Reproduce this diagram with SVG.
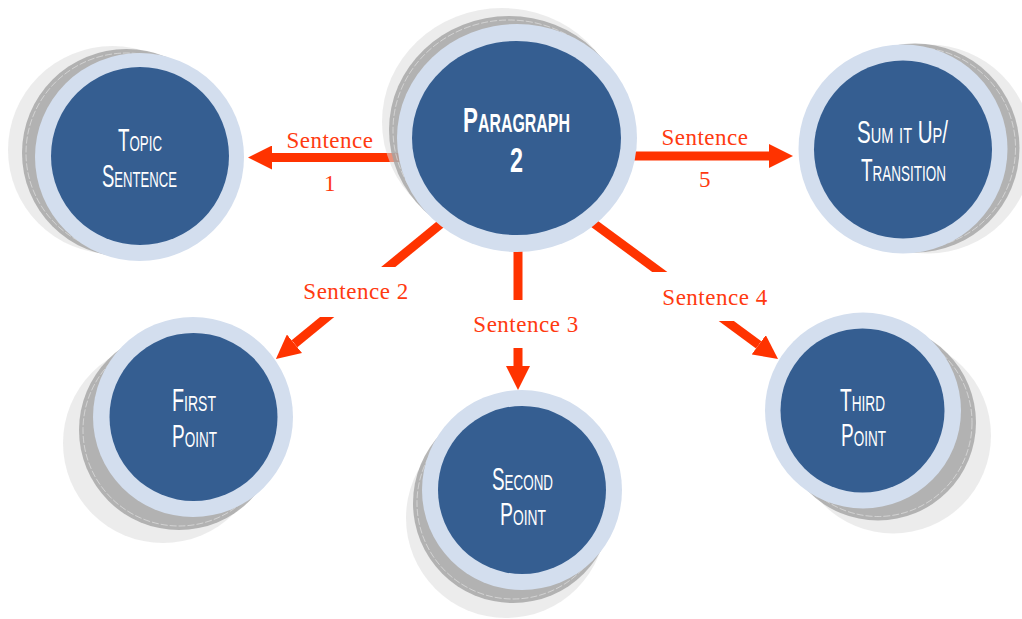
<svg xmlns="http://www.w3.org/2000/svg" width="1022" height="619" viewBox="0 0 1022 619">
<style>
.sh1{fill:#DCDCDC;opacity:0.55}
.sh2{fill:#A2A2A2;opacity:0.78}
.dash{fill:none;stroke:#FFFFFF;stroke-width:0.7;stroke-dasharray:7 2;opacity:0.6}
.ring{fill:#D3DEEE}
.core{fill:#355E91}
.nt{font-family:"Liberation Sans","DejaVu Sans",sans-serif;font-size:31px;fill:#FFFFFF;font-variant:small-caps}
.bt{font-weight:bold;font-size:35px}
.shaft{stroke:#FF3300;stroke-width:9;fill:none}
.lbl{font-family:"Liberation Serif","DejaVu Serif",serif;font-size:23px;fill:#FF3A10;text-anchor:middle;letter-spacing:0.5px}
</style>
<defs>
<marker id="head" markerUnits="userSpaceOnUse" markerWidth="24" markerHeight="24" refX="0" refY="12" orient="auto">
<path d="M0,0 L24,12 L0,24 Z" fill="#FF3300"/>
</marker>
<mask id="gaps" maskUnits="userSpaceOnUse" x="0" y="0" width="1022" height="619">
<rect x="0" y="0" width="1022" height="619" fill="#FFFFFF"/>
<rect x="290" y="267" width="125" height="50" fill="#000000"/>
<rect x="460" y="300" width="130" height="48" fill="#000000"/>
<rect x="650" y="272" width="130" height="49" fill="#000000"/>
</mask>
</defs>

<g id="connectors">
<g mask="url(#gaps)">
<line class="shaft" x1="420" y1="157.5" x2="272" y2="157.5" marker-end="url(#head)"/>
<line class="shaft" x1="620" y1="156" x2="769" y2="156" marker-end="url(#head)"/>
<line class="shaft" x1="470" y1="200" x2="294.5" y2="343.8" marker-end="url(#head)"/>
<line class="shaft" x1="518" y1="230" x2="518" y2="366" marker-end="url(#head)"/>
<line class="shaft" x1="562" y1="200" x2="758.7" y2="344.8" marker-end="url(#head)"/>
</g>
<text class="lbl" x="330" y="148">Sentence</text>
<text class="lbl" x="330" y="191">1</text>
<text class="lbl" x="705" y="145">Sentence</text>
<text class="lbl" x="705" y="187">5</text>
<text class="lbl" x="356" y="299">Sentence 2</text>
<text class="lbl" x="526" y="332">Sentence 3</text>
<text class="lbl" x="715" y="305">Sentence 4</text>
</g>

<g id="node-paragraph">
<ellipse class="sh1" cx="502" cy="122" rx="120" ry="114"/>
<ellipse class="sh2" cx="509" cy="130" rx="120" ry="114"/>
<ellipse class="dash" cx="509" cy="130" rx="116" ry="110"/>
<ellipse class="ring" cx="517" cy="138" rx="120" ry="114"/>
<ellipse class="core" cx="516.5" cy="138" rx="104.5" ry="97"/>
<text class="nt bt" x="463" y="132" textLength="107" lengthAdjust="spacingAndGlyphs">Paragraph</text>
<text class="nt bt" x="510" y="172" textLength="13" lengthAdjust="spacingAndGlyphs">2</text>
</g>

<g id="node-topic">
<ellipse class="sh1" cx="112.5" cy="150" rx="104.5" ry="104"/>
<ellipse class="sh2" cx="126.5" cy="153" rx="104.5" ry="104"/>
<ellipse class="dash" cx="126.5" cy="153" rx="100.5" ry="100"/>
<ellipse class="ring" cx="139.5" cy="157" rx="104.5" ry="104"/>
<circle class="core" cx="140" cy="156" r="89"/>
<text class="nt" x="118" y="151" textLength="44" lengthAdjust="spacingAndGlyphs">Topic</text>
<text class="nt" x="102" y="187" textLength="75" lengthAdjust="spacingAndGlyphs">Sentence</text>
</g>

<g id="node-sum">
<circle class="sh1" cx="928" cy="149" r="104.5"/>
<circle class="sh2" cx="915" cy="148" r="104.5"/>
<circle class="dash" cx="915" cy="148" r="100.5"/>
<circle class="ring" cx="903" cy="149" r="104.5"/>
<circle class="core" cx="903" cy="149.5" r="89"/>
<text class="nt" x="857" y="143" textLength="91" lengthAdjust="spacingAndGlyphs">Sum it Up/</text>
<text class="nt" x="861" y="181" textLength="85" lengthAdjust="spacingAndGlyphs">Transition</text>
</g>

<g id="node-first">
<circle class="sh1" cx="163" cy="443" r="100"/>
<circle class="sh2" cx="179" cy="430" r="100"/>
<circle class="dash" cx="179" cy="430" r="96"/>
<circle class="ring" cx="193" cy="417" r="100"/>
<circle class="core" cx="193.5" cy="417" r="84"/>
<text class="nt" x="172" y="411" textLength="44" lengthAdjust="spacingAndGlyphs">First</text>
<text class="nt" x="172" y="447" textLength="45" lengthAdjust="spacingAndGlyphs">Point</text>
</g>

<g id="node-second">
<circle class="sh1" cx="506" cy="518" r="100"/>
<circle class="sh2" cx="513" cy="503" r="100"/>
<circle class="dash" cx="513" cy="503" r="96"/>
<circle class="ring" cx="522" cy="490" r="100"/>
<circle class="core" cx="522" cy="490" r="84"/>
<text class="nt" x="492" y="490" textLength="61" lengthAdjust="spacingAndGlyphs">Second</text>
<text class="nt" x="500" y="525" textLength="46" lengthAdjust="spacingAndGlyphs">Point</text>
</g>

<g id="node-third">
<circle class="sh1" cx="893" cy="435.5" r="98"/>
<circle class="sh2" cx="878" cy="422.5" r="98"/>
<circle class="dash" cx="878" cy="422.5" r="94"/>
<circle class="ring" cx="863" cy="410.5" r="98"/>
<circle class="core" cx="862.5" cy="410.5" r="82"/>
<text class="nt" x="840" y="411" textLength="45" lengthAdjust="spacingAndGlyphs">Third</text>
<text class="nt" x="841" y="446" textLength="45" lengthAdjust="spacingAndGlyphs">Point</text>
</g>
</svg>
